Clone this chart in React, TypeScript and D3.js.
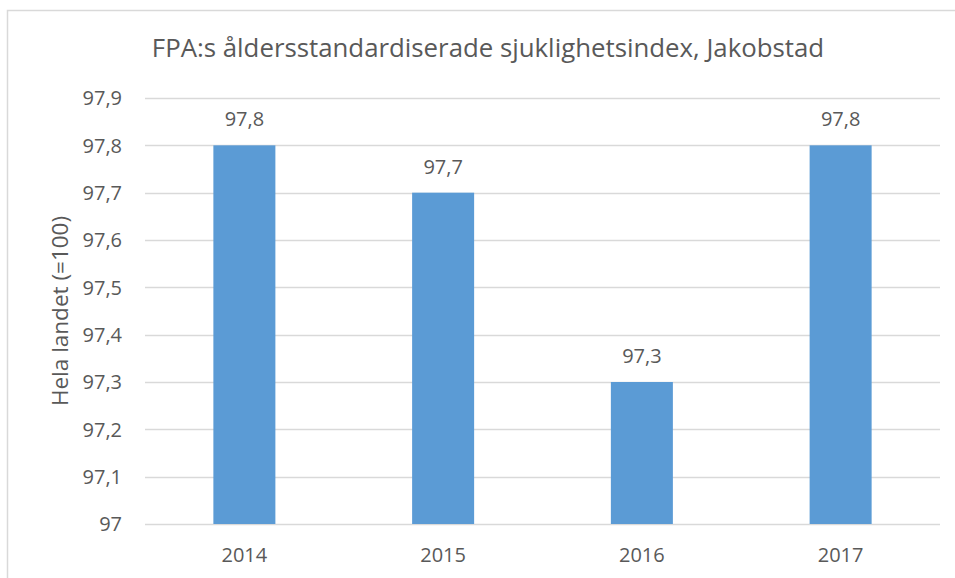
import * as d3 from 'd3'

const years = ['2014', '2015', '2016', '2017']
const values = [97.8, 97.7, 97.3, 97.8]
const yTicks = [97, 97.1, 97.2, 97.3, 97.4, 97.5, 97.6, 97.7, 97.8, 97.9]

const title = 'FPA:s åldersstandardiserade sjuklighetsindex, Jakobstad'
const yTitle = 'Hela landet (=100)'

const fmt = (v: number) => (Number.isInteger(v) ? String(v) : v.toFixed(1).replace('.', ','))

export default function App() {
  const width = 955
  const height = 578
  const margin = { top: 98, right: 15, bottom: 54, left: 145 }
  const font = "'Open Sans', sans-serif"
  const textColor = '#595959'

  const x = d3
    .scaleBand()
    .domain(years)
    .range([margin.left, width - margin.right])
    .paddingInner(0.688)
    .paddingOuter(0.344)

  const y = d3
    .scaleLinear()
    .domain([97, 97.9])
    .range([height - margin.bottom, margin.top])

  return (
    <svg
      width={width}
      height={height}
      style={{ position: 'absolute', left: 0, top: 0, background: '#fff' }}
      fontFamily={font}
    >
      <rect x={7.5} y={10.5} width={960} height={600} fill="#fff" stroke="#d9d9d9" strokeWidth={1.5} />

      <text x={488} y={57} textAnchor="middle" fontSize={25.8} fill={textColor}>
        {title}
      </text>

      {yTicks.map((t) => (
        <g key={t}>
          <line
            x1={margin.left}
            x2={width - margin.right}
            y1={Math.round(y(t)) + 0.5}
            y2={Math.round(y(t)) + 0.5}
            stroke="#d9d9d9"
            strokeWidth={1.5}
          />
          <text x={122} y={y(t)} dy="0.36em" textAnchor="end" fontSize={20} fill={textColor}>
            {fmt(t)}
          </text>
        </g>
      ))}

      {years.map((yr, i) => (
        <g key={yr}>
          <rect
            x={x(yr)}
            y={y(values[i])}
            width={x.bandwidth()}
            height={y(97) - y(values[i])}
            fill="#5b9bd5"
          />
          <text
            x={(x(yr) || 0) + x.bandwidth() / 2}
            y={y(values[i]) - 19}
            textAnchor="middle"
            fontSize={20}
            fill={textColor}
          >
            {fmt(values[i])}
          </text>
          <text
            x={(x(yr) || 0) + x.bandwidth() / 2}
            y={562}
            textAnchor="middle"
            fontSize={20}
            fill={textColor}
          >
            {yr}
          </text>
        </g>
      ))}

      <text
        transform={`translate(68,311) rotate(-90)`}
        textAnchor="middle"
        fontSize={22.5}
        fill={textColor}
      >
        {yTitle}
      </text>
    </svg>
  )
}
